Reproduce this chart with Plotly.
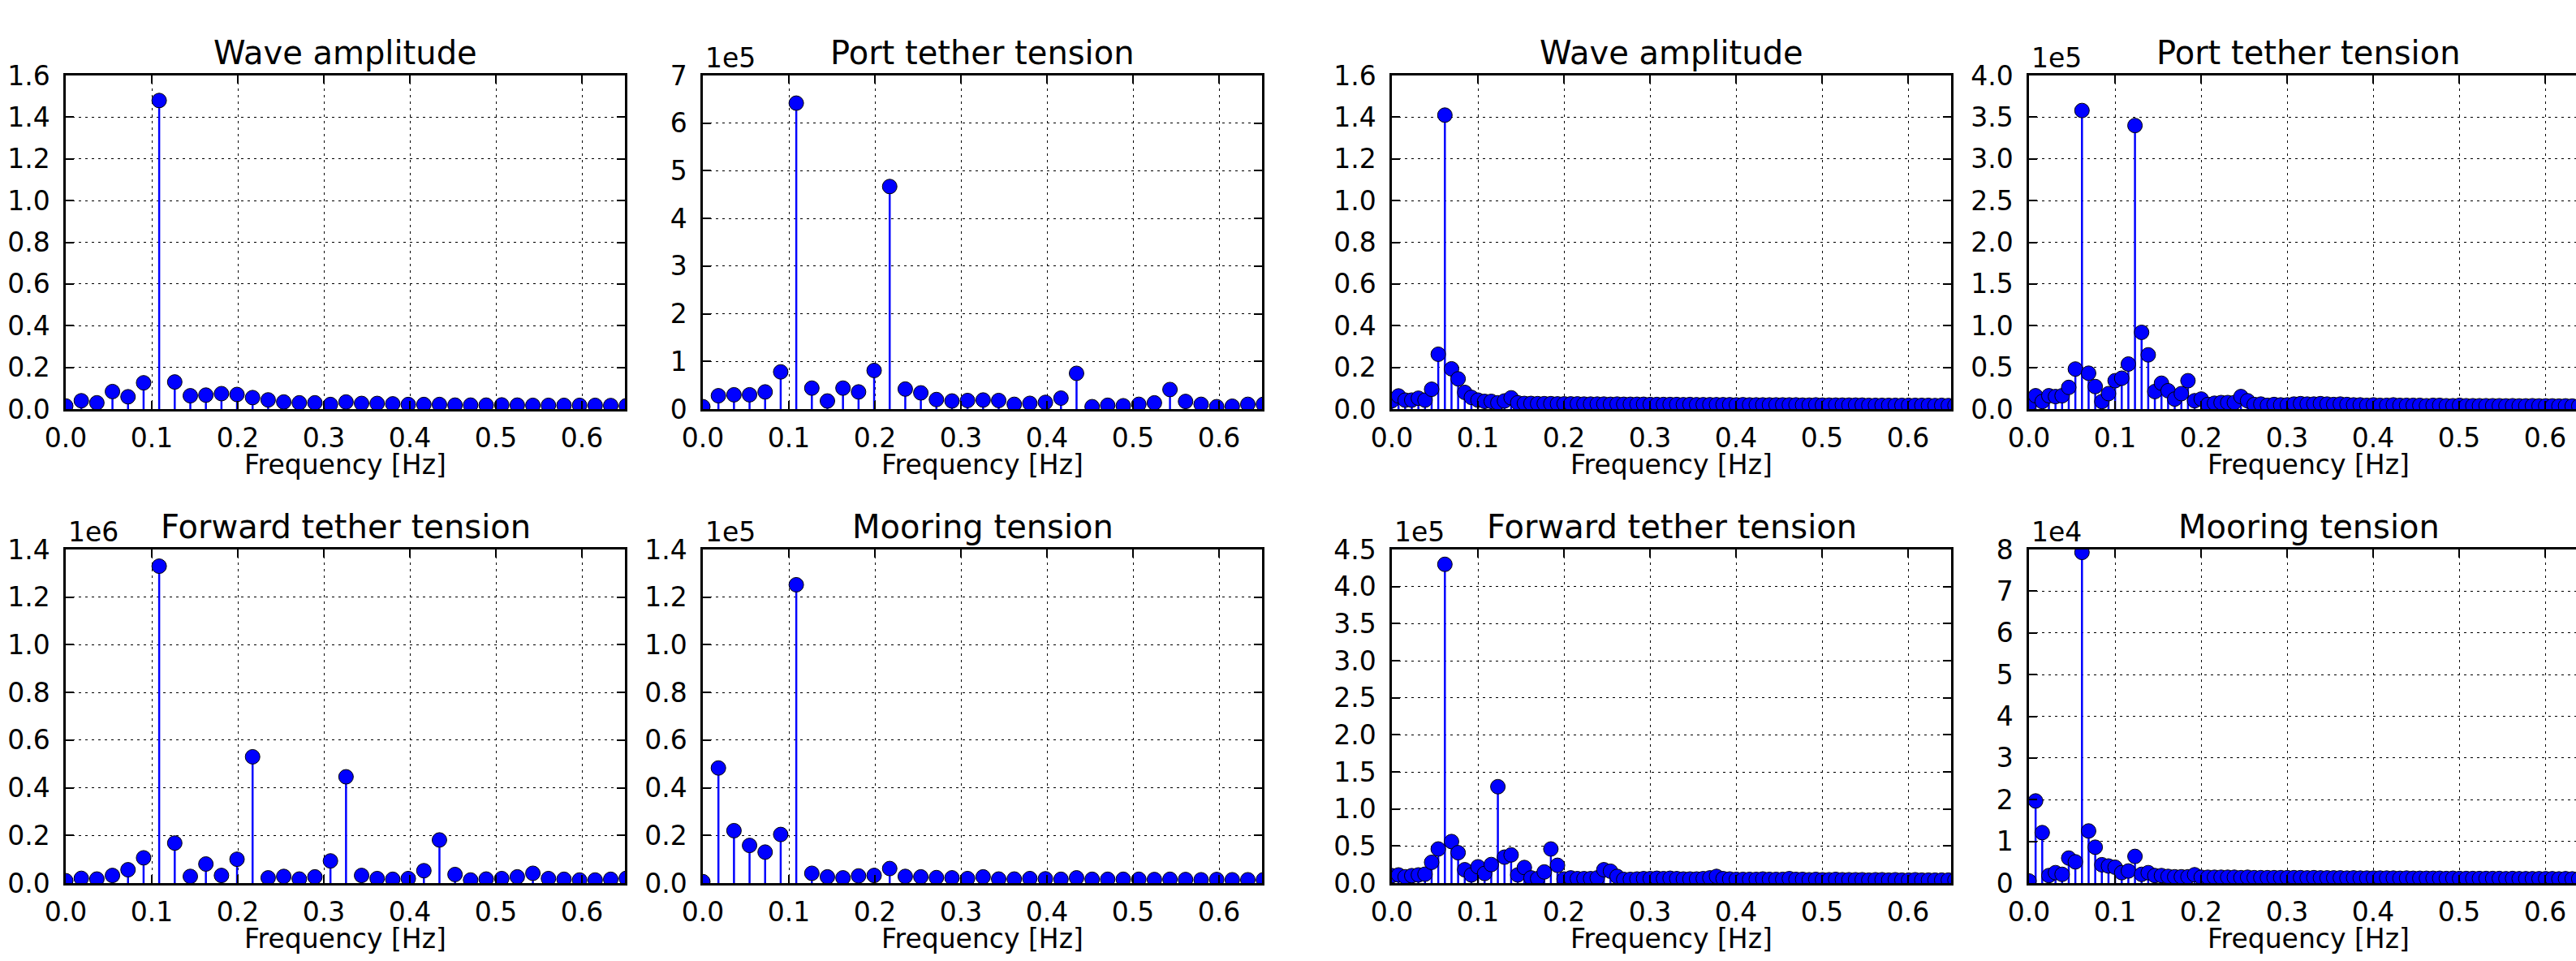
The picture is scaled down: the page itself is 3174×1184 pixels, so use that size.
import plotly.graph_objects as go

# ---------------- data ----------------
df_left = 0.0181   # frequency bin width, left pair of columns [Hz]
df_right = 0.0077  # frequency bin width, right pair of columns [Hz]

wave_L = [0.015, 0.040, 0.030, 0.084, 0.059, 0.126, 1.48, 0.130, 0.064, 0.067, 0.074, 0.070,
          0.055, 0.044, 0.034, 0.030, 0.030, 0.022, 0.034, 0.027, 0.027, 0.025, 0.022, 0.022,
          0.022, 0.019, 0.019, 0.019, 0.020, 0.019, 0.018, 0.018, 0.018, 0.018, 0.018, 0.017, 0.016]
port_L = [0.05, 0.28, 0.30, 0.30, 0.36, 0.78, 6.42, 0.44, 0.17, 0.44, 0.36, 0.81, 4.67, 0.42,
          0.34, 0.20, 0.17, 0.18, 0.19, 0.18, 0.10, 0.12, 0.14, 0.23, 0.75, 0.05, 0.08, 0.07,
          0.10, 0.13, 0.41, 0.16, 0.10, 0.05, 0.06, 0.10, 0.10]            # x 1e5
fwd_L = [0.010, 0.020, 0.017, 0.032, 0.056, 0.106, 1.33, 0.168, 0.028, 0.080, 0.032, 0.100,
         0.53, 0.022, 0.028, 0.017, 0.026, 0.093, 0.446, 0.032, 0.019, 0.016, 0.019, 0.052,
         0.181, 0.036, 0.013, 0.017, 0.019, 0.026, 0.041, 0.019, 0.016, 0.013, 0.013, 0.016, 0.020]  # x 1e6
moor_L = [0.006, 0.483, 0.220, 0.158, 0.130, 0.204, 1.252, 0.041, 0.026, 0.022, 0.030, 0.032,
          0.061, 0.028, 0.026, 0.023, 0.022, 0.019, 0.026, 0.017, 0.017, 0.019, 0.018, 0.016,
          0.022, 0.016, 0.016, 0.016, 0.016, 0.015, 0.016, 0.015, 0.014, 0.015, 0.014, 0.014, 0.014]  # x 1e5

wave_R = [0.040, 0.063, 0.043, 0.043, 0.052, 0.043, 0.095, 0.263, 1.41, 0.193, 0.145, 0.080,
          0.056, 0.043, 0.037, 0.037, 0.030, 0.039, 0.054, 0.030, 0.027,
          0.027, 0.026, 0.026, 0.026, 0.025, 0.025, 0.025, 0.025, 0.024, 0.024,
          0.024, 0.024, 0.023, 0.024, 0.023, 0.023, 0.023, 0.023, 0.022, 0.022,
          0.022, 0.022, 0.022, 0.021, 0.022, 0.021, 0.021, 0.021, 0.021, 0.021,
          0.021, 0.020, 0.021, 0.020, 0.020, 0.020, 0.020, 0.020, 0.020, 0.020,
          0.020, 0.019, 0.019, 0.020, 0.019, 0.019, 0.019, 0.019, 0.019, 0.019,
          0.019, 0.018, 0.018, 0.018, 0.018, 0.018, 0.018, 0.018, 0.018, 0.018,
          0.018, 0.017, 0.018, 0.017, 0.017]
port_R = [0.05, 0.16, 0.09, 0.16, 0.15, 0.16, 0.26, 0.48, 3.58, 0.43, 0.27, 0.09, 0.185, 0.34,
          0.37, 0.54, 3.40, 0.92, 0.65, 0.21, 0.31, 0.22, 0.12, 0.185, 0.34, 0.10, 0.12, 0.055,
          0.07, 0.078, 0.078, 0.078, 0.15, 0.10, 0.055, 0.06, 0.045, 0.055,
          0.05, 0.05, 0.06, 0.065, 0.06, 0.06, 0.065, 0.06, 0.055, 0.06,
          0.055, 0.05, 0.05, 0.045, 0.05, 0.045, 0.045, 0.05, 0.045, 0.045,
          0.045, 0.045, 0.04, 0.045, 0.045, 0.04, 0.04, 0.045, 0.04, 0.04,
          0.04, 0.04, 0.04, 0.04, 0.038, 0.04, 0.038, 0.038, 0.04, 0.038,
          0.038, 0.038, 0.036, 0.038, 0.036, 0.036, 0.036, 0.035]           # x 1e5
fwd_R = [0.10, 0.11, 0.085, 0.10, 0.11, 0.12, 0.28, 0.46, 4.30, 0.56, 0.41, 0.18, 0.11, 0.22,
         0.13, 0.25, 1.30, 0.35, 0.38, 0.11, 0.21, 0.07, 0.06, 0.15, 0.46, 0.24, 0.055, 0.07,
         0.06, 0.06, 0.06, 0.07, 0.18, 0.16, 0.09, 0.05, 0.05, 0.055,
         0.06, 0.06, 0.065, 0.06, 0.065, 0.06, 0.055, 0.055, 0.055, 0.06,
         0.07, 0.09, 0.06, 0.055, 0.05, 0.05, 0.05, 0.05, 0.055, 0.05,
         0.05, 0.05, 0.06, 0.05, 0.05, 0.045, 0.05, 0.045, 0.045, 0.05,
         0.045, 0.045, 0.045, 0.045, 0.04, 0.045, 0.045, 0.04, 0.045, 0.04,
         0.04, 0.045, 0.04, 0.04, 0.04, 0.04, 0.04, 0.04]                  # x 1e5
moor_R = [0.05, 1.97, 1.21, 0.18, 0.25, 0.21, 0.60, 0.51, 7.93, 1.25, 0.86, 0.44, 0.41, 0.38,
          0.25, 0.29, 0.64, 0.21, 0.25, 0.18, 0.18, 0.16, 0.15, 0.15, 0.15, 0.20, 0.14,
          0.14, 0.14, 0.14, 0.14, 0.14, 0.13, 0.14, 0.13, 0.13, 0.13,
          0.13, 0.13, 0.13, 0.13, 0.13, 0.125, 0.13, 0.125, 0.125, 0.125,
          0.125, 0.12, 0.125, 0.12, 0.12, 0.12, 0.12, 0.12, 0.12, 0.115,
          0.12, 0.115, 0.115, 0.115, 0.115, 0.115, 0.11, 0.115, 0.11, 0.11,
          0.11, 0.11, 0.11, 0.11, 0.11, 0.105, 0.11, 0.105, 0.105, 0.105,
          0.105, 0.105, 0.105, 0.10, 0.105, 0.10, 0.10, 0.10, 0.10]          # x 1e4

titles = ["Wave amplitude", "Port tether tension", "Wave amplitude", "Port tether tension",
          "Forward tether tension", "Mooring tension", "Forward tether tension", "Mooring tension"]
offsets = ["", "1e5", "", "1e5", "1e6", "1e5", "1e5", "1e4"]
y_max = [1.6, 7, 1.6, 4.0, 1.4, 1.4, 4.5, 8]
y_step = [0.2, 1, 0.2, 0.5, 0.2, 0.2, 0.5, 1]
y_dec = [1, 0, 1, 1, 1, 1, 1, 0]
x_ticks = [0.0, 0.1, 0.2, 0.3, 0.4, 0.5, 0.6]
x_label = "Frequency [Hz]"

series = [wave_L, port_L, wave_R, port_R, fwd_L, moor_L, fwd_R, moor_R]
bin_width = [df_left, df_left, df_right, df_right, df_left, df_left, df_right, df_right]

# ---------------- layout geometry (pixels) ----------------
W, H = 3174, 1184
cols_px = [(81, 770), (866, 1555), (1715, 2404), (2500, 3189)]
rows_px = [(93, 504), (677, 1088)]
X_FULL = 0.65
FONT = "DejaVu Sans"
TICK_SIZE = 33
TITLE_SIZE = 40

fig = go.Figure()
annotations = []
layout_axes = {}

for i in range(8):
    r, c = divmod(i, 4)
    n = i + 1
    xa = "x" if n == 1 else f"x{n}"
    ya = "y" if n == 1 else f"y{n}"
    l, rr = cols_px[c]
    t, b = rows_px[r]
    vis_r = min(rr, W)
    xdom = [l / W, vis_r / W]
    xrange_max = X_FULL * (vis_r - l) / (rr - l)
    ydom = [1 - b / H, 1 - t / H]

    vals = series[i]
    freqs = [k * bin_width[i] for k in range(len(vals))]

    sx, sy = [], []
    for f, v in zip(freqs, vals):
        sx += [f, f, None]
        sy += [0, v, None]
    fig.add_trace(go.Scatter(x=sx, y=sy, mode="lines", xaxis=xa, yaxis=ya,
                             line=dict(color="#0000ff", width=2.5), hoverinfo="skip",
                             showlegend=False))
    fig.add_trace(go.Scatter(x=freqs, y=vals, mode="markers", xaxis=xa, yaxis=ya,
                             marker=dict(color="#0000ff", size=18,
                                         line=dict(color="black", width=1)),
                             cliponaxis=True, showlegend=False))

    nsteps = int(round(y_max[i] / y_step[i]))
    yt = [k * y_step[i] for k in range(nsteps + 1)]
    ytext = [f"{v:.{y_dec[i]}f}" for v in yt]

    common = dict(showline=True, linecolor="black", linewidth=2.5, automargin=False,
                  ticks="inside", ticklen=10, tickwidth=1.5, tickcolor="black",
                  showgrid=True, gridcolor="black", gridwidth=1.2, griddash="3px,5px",
                  zeroline=False, tickfont=dict(family=FONT, size=TICK_SIZE, color="black"))
    layout_axes["xaxis" if n == 1 else f"xaxis{n}"] = dict(
        domain=xdom, range=[0, xrange_max], anchor=ya,
        tickvals=x_ticks, ticktext=[f"{v:.1f}" for v in x_ticks],
        mirror="ticks", ticklabelstandoff=5, **common)
    layout_axes["yaxis" if n == 1 else f"yaxis{n}"] = dict(
        domain=ydom, range=[0, y_max[i]], anchor=xa,
        tickvals=yt, ticktext=ytext,
        mirror=("ticks" if rr <= W else False), ticklabelstandoff=10, **common)

    cx = (l + rr) / 2
    annotations.append(dict(text=titles[i], xref="paper", yref="paper",
                            x=cx / W, y=1 - (t - 28) / H, xanchor="center", yanchor="middle",
                            showarrow=False, font=dict(family=FONT, size=TITLE_SIZE, color="black")))
    annotations.append(dict(text=x_label, xref="paper", yref="paper",
                            x=(l + (rr - l) / 2) / W, y=1 - (b + 68) / H,
                            xanchor="center", yanchor="middle", showarrow=False,
                            font=dict(family=FONT, size=TICK_SIZE, color="black")))
    if offsets[i]:
        annotations.append(dict(text=offsets[i], xref="paper", yref="paper",
                                x=(l + 1) / W, y=1 - (t - 22) / H, xanchor="left",
                                yanchor="middle", showarrow=False,
                                font=dict(family=FONT, size=TICK_SIZE, color="black")))

fig.update_layout(width=W, height=H, margin=dict(l=0, r=0, t=0, b=0),
                  paper_bgcolor="white", plot_bgcolor="white",
                  annotations=annotations, showlegend=False, **layout_axes)

fig.write_html("out.html", config={"displayModeBar": False},
               post_script="document.body.style.margin='0px';document.body.style.overflow='hidden';")
